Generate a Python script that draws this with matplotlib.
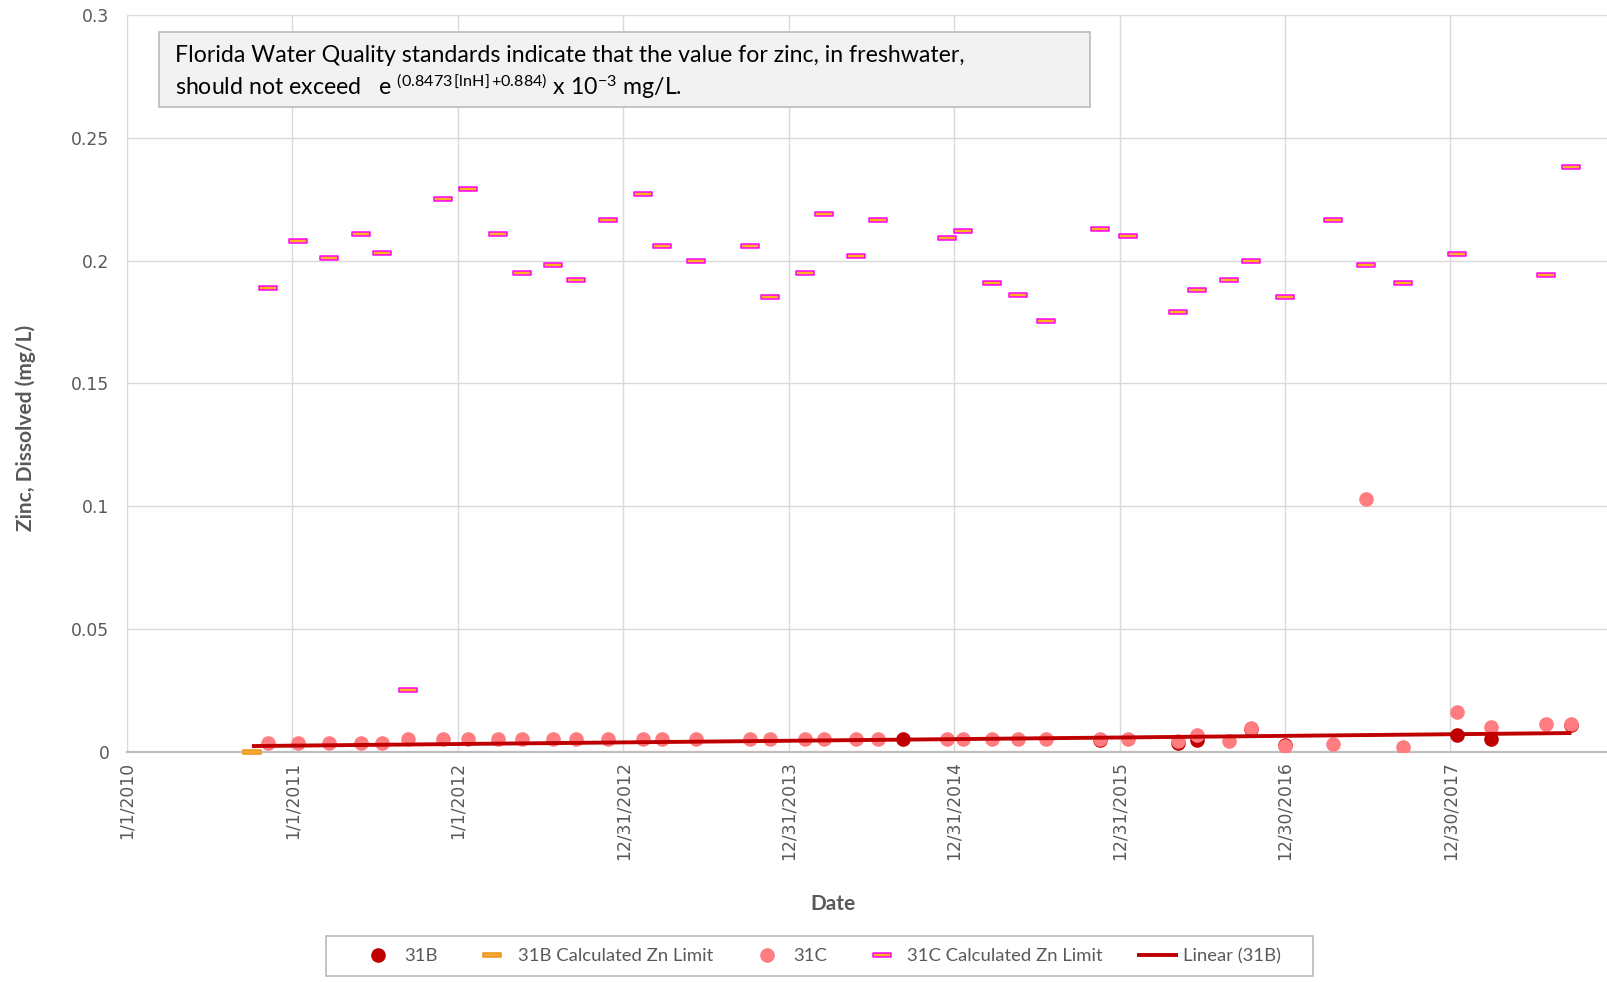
import matplotlib
matplotlib.use("Agg")
import matplotlib.pyplot as plt
import numpy as np
import pandas as pd
from matplotlib.path import Path
from matplotlib.patches import Rectangle

# ---------------- data ----------------
c31_dates = ["2010-11-08", "2011-01-13", "2011-03-23", "2011-06-01", "2011-07-19",
             "2011-09-13", "2011-11-29", "2012-01-23", "2012-03-30", "2012-05-22",
             "2012-07-29", "2012-09-18", "2012-11-27", "2013-02-12", "2013-03-27",
             "2013-06-10", "2013-10-07", "2013-11-20", "2014-02-05", "2014-03-19",
             "2014-05-29", "2014-07-16", "2014-12-15", "2015-01-20", "2015-03-24",
             "2015-05-20", "2015-07-21", "2015-11-19", "2016-01-18", "2016-05-09",
             "2016-06-20", "2016-08-28", "2016-10-17", "2016-12-31", "2017-04-16",
             "2017-06-26", "2017-09-17", "2018-01-14", "2018-03-30", "2018-07-30",
             "2018-09-23"]
c31_zinc = [0.0037, 0.0034, 0.0034, 0.0034, 0.0034,
            0.005, 0.005, 0.005, 0.005, 0.005,
            0.005, 0.005, 0.005, 0.005, 0.005,
            0.005, 0.005, 0.005, 0.005, 0.005,
            0.005, 0.005, 0.005, 0.005, 0.005,
            0.005, 0.005, 0.005, 0.005, 0.0043,
            0.0068, 0.0043, 0.0095, 0.0025, 0.003,
            0.103, 0.0018, 0.0163, 0.0102, 0.0112,
            0.0112]

c31_limit_dates = ["2010-11-08", "2011-01-13", "2011-03-23", "2011-06-01", "2011-07-19",
                   "2011-09-13", "2011-11-29", "2012-01-23", "2012-03-30", "2012-05-22",
                   "2012-07-29", "2012-09-18", "2012-11-27", "2013-02-12", "2013-03-27",
                   "2013-06-10", "2013-10-07", "2013-11-20", "2014-02-05", "2014-03-19",
                   "2014-05-29", "2014-07-16", "2014-12-15", "2015-01-20", "2015-03-24",
                   "2015-05-20", "2015-07-21", "2015-11-19", "2016-01-18", "2016-05-09",
                   "2016-06-20", "2016-08-28", "2016-10-17", "2016-12-31", "2017-04-16",
                   "2017-06-26", "2017-09-17", "2018-01-14", "2018-07-30", "2018-09-23"]
c31_limit = [0.189, 0.208, 0.201, 0.211, 0.203,
             0.025, 0.225, 0.229, 0.211, 0.195,
             0.198, 0.192, 0.2165, 0.227, 0.206,
             0.200, 0.206, 0.185, 0.195, 0.219,
             0.202, 0.2165, 0.209, 0.212, 0.191,
             0.186, 0.1755, 0.213, 0.210, 0.179,
             0.188, 0.192, 0.200, 0.185, 0.2165,
             0.198, 0.191, 0.2026, 0.194, 0.238]

b31_dates = ["2014-09-09", "2015-11-19", "2016-05-09", "2016-06-20", "2016-10-17",
             "2016-12-31", "2018-01-14", "2018-03-30", "2018-09-23"]
b31_zinc = [0.005, 0.0049, 0.0037, 0.0048, 0.0092,
            0.0027, 0.0069, 0.005, 0.011]

b31_limit_dates = ["2010-10-04"]
b31_limit = [0.0]

trend_dates = ["2010-10-04", "2018-09-23"]
trend_values = [0.0023, 0.0076]

x_tick_labels = ["1/1/2010", "1/1/2011", "1/1/2012", "12/31/2012", "12/31/2013",
                 "12/31/2014", "12/31/2015", "12/30/2016", "12/30/2017"]
y_ticks = [0, 0.05, 0.1, 0.15, 0.2, 0.25, 0.3]
y_tick_labels = ["0", "0.05", "0.1", "0.15", "0.2", "0.25", "0.3"]

# ---------------- style ----------------
GRAY_TXT = "#595959"
plt.rcParams["mathtext.fontset"] = "custom"
plt.rcParams["mathtext.rm"] = "Lato"
plt.rcParams["mathtext.it"] = "Lato:italic"
plt.rcParams["mathtext.bf"] = "Lato:bold"

rect_marker = Path([(-1, -0.26), (1, -0.26), (1, 0.26), (-1, 0.26), (-1, -0.26)],
                   [Path.MOVETO, Path.LINETO, Path.LINETO, Path.LINETO, Path.CLOSEPOLY])

W, H = 1608, 982
fig = plt.figure(figsize=(W / 100, H / 100), dpi=100)
x0, x1 = 126.8, 1608
ytop, ybot = 15.0, 751.7
ax = fig.add_axes([x0 / W, 1 - ybot / H, (x1 - x0) / W, (ybot - ytop) / H])

to_dt = lambda s: pd.to_datetime(s)

ms = 9.5
ax.plot(to_dt(b31_dates), b31_zinc, ls="none", marker="o", ms=ms, color="#C00000",
        mec="#C00000", zorder=3, label="31B")
ax.plot(to_dt(b31_limit_dates), b31_limit, ls="none", marker=rect_marker, ms=13.5,
        mfc="#F6A93B", mec="#F29A1E", mew=1.2, zorder=4, label="31B Calculated Zn Limit",
        clip_on=False)
ax.plot(to_dt(c31_dates), c31_zinc, ls="none", marker="o", ms=ms, color="#FF7C80",
        mec="#FF7C80", zorder=5, label="31C")
ax.plot(to_dt(c31_limit_dates), c31_limit, ls="none", marker=rect_marker, ms=13.5,
        mfc="#FFB21A", mec="#FF00FF", mew=1.1, zorder=6, label="31C Calculated Zn Limit")
ax.plot(to_dt(trend_dates), trend_values, color="#C00000", lw=2.8, zorder=7,
        solid_capstyle="butt", label="Linear (31B)")

tick_dates = pd.to_datetime(x_tick_labels, format="%m/%d/%Y")
start = tick_dates[0]
ax.set_xlim(start, start + pd.Timedelta(days=(x1 - x0) / (165.45 / 365)))
ax.set_ylim(0, 0.3)
ax.set_xticks(tick_dates)
ax.set_xticklabels(x_tick_labels, rotation=90, fontfamily="DejaVu Sans")
ax.set_yticks(y_ticks)
ax.set_yticklabels(y_tick_labels, fontfamily="DejaVu Sans")
ax.tick_params(axis="both", length=0, labelsize=12.3, labelcolor=GRAY_TXT)
ax.tick_params(axis="x", pad=7)
ax.tick_params(axis="y", pad=12.5)
ax.grid(True, color="#D9D9D9", lw=1.0, zorder=0)
ax.set_axisbelow(True)
for s in ["top", "right", "left"]:
    ax.spines[s].set_visible(False)
ax.spines["bottom"].set_color("#BFBFBF")
ax.spines["bottom"].set_linewidth(1.6)
ax.spines["bottom"].set_zorder(2)

# axis titles
fig.text(26 / W, 1 - 428 / H, "Zinc, Dissolved (mg/L)", rotation=90, ha="center",
         va="center", fontsize=15, fontweight="bold", color=GRAY_TXT, family="Lato")
fig.text(833 / W, 1 - 904 / H, "Date", ha="center", va="center", fontsize=15,
         fontweight="bold", color=GRAY_TXT, family="Lato")

# text box
bx0, bx1, by0, by1 = 159, 1090, 32, 107
fig.patches.append(Rectangle((bx0 / W, 1 - by1 / H), (bx1 - bx0) / W, (by1 - by0) / H,
                             transform=fig.transFigure, facecolor="#F2F2F2",
                             edgecolor="#BFBFBF", lw=1.3, zorder=10))
fig.text(175 / W, 1 - 56 / H,
         "Florida Water Quality standards indicate that the value for zinc, in freshwater,",
         ha="left", va="center", fontsize=16.65, color="black", family="Lato", zorder=11)
fig.text(175 / W, 1 - 86 / H,
         r"should not exceed   e $^{\mathrm{(0.8473\,[lnH]\,{+}0.884)}}$ x 10$^{\mathrm{{-}3}}$ mg/L.",
         ha="left", va="center", fontsize=16.65, color="black", family="Lato", zorder=11)

# legend (frame drawn separately)
lx0, lx1, ly0, ly1 = 326, 1313, 936, 976
fig.patches.append(Rectangle((lx0 / W, 1 - ly1 / H), (lx1 - lx0) / W, (ly1 - ly0) / H,
                             transform=fig.transFigure, facecolor="white",
                             edgecolor="#BFBFBF", lw=1.3, zorder=1))
handles, labels = ax.get_legend_handles_labels()
leg = fig.legend(handles, labels, loc="center",
                 bbox_to_anchor=((lx0 + lx1) / 2 / W, 1 - (ly0 + ly1) / 2 / H),
                 ncol=5, frameon=False, prop={"family": "Lato", "size": 13.3},
                 handlelength=2.2, handletextpad=0.3, columnspacing=1.85, borderpad=0.3)
leg.set_zorder(5)
for t in leg.get_texts():
    t.set_color(GRAY_TXT)

fig.savefig("out.png", dpi=100)
